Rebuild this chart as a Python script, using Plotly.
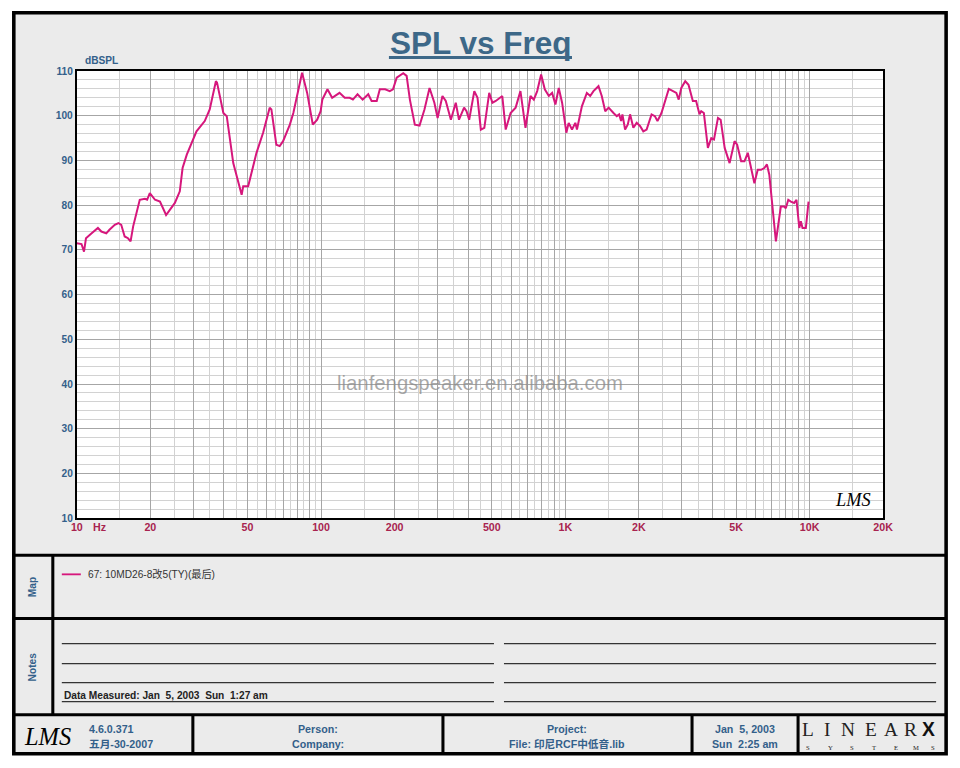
import plotly.graph_objects as go

W, H = 960, 768

# ---------------- data ----------------
freq_hz = [10.0, 10.45, 10.7, 10.9, 11.5, 12.2, 12.6, 13.2, 13.6, 14.3, 14.8, 15.2, 15.7, 16.2, 16.6,
           17.0, 18.1, 19.0, 19.4, 19.9, 20.9, 21.9, 23.2, 24.0, 25.2, 26.4, 27.1, 28.2, 29.5, 30.9,
           33.4, 35.0, 37.1, 37.5, 39.8, 41.1, 43.7, 47.3, 48.0, 50.3, 54.4, 57.9, 61.6, 62.6, 65.6,
           67.7, 69.9, 74.5, 77.0, 80.0, 83.6, 87.7, 92.5, 96.4, 99.6, 101.2, 106.2, 111.0,
           119, 125, 131, 135, 141, 148, 156, 161, 169, 174, 183, 191, 197, 204, 217, 224, 231, 242,
           253, 265, 278, 291, 300, 314, 324, 340, 356, 367, 385, 394, 404, 424, 437, 451, 466, 488,
           503, 519, 552, 570, 597, 626, 655, 687, 720, 743, 767, 796, 824, 856, 883, 911, 940, 970,
           1010, 1032, 1065, 1099, 1116, 1169, 1225, 1264, 1304, 1367,
           1410, 1457, 1504, 1575, 1624, 1661, 1692, 1713, 1757, 1801, 1841, 1899, 1959, 2022, 2086,
           2152, 2255, 2326, 2384, 2475, 2652, 2760, 2848, 2912, 2984, 3097, 3194, 3327, 3432, 3543,
           3600, 3692, 3834, 3958, 4061, 4217, 4325, 4492, 4706, 4930, 5052, 5246, 5413, 5585, 5944,
           6133, 6328, 6529, 6690, 6842, 7280, 7627, 7870, 7992, 8180, 8382, 8650, 8840, 9075, 9210,
           9357, 9654, 9905]
spl_db = [71.5, 71.3, 69.6, 72.6, 73.7, 74.9, 74.1, 73.7, 74.5, 75.6, 76.0, 75.6, 73.0, 72.6, 71.9,
          75.2, 81.2, 81.4, 81.2, 82.7, 81.2, 80.8, 77.8, 79.0, 80.5, 83.1, 88.3, 91.3, 93.9, 96.5,
          98.8, 101.4, 107.7, 107.4, 100.6, 99.9, 89.4, 82.3, 84.2, 84.2, 91.7, 96.2, 101.8, 101.4, 93.5,
          93.2, 94.3, 98.0, 100.6, 105.1, 109.6, 105.1, 98.0, 99.1, 101.0, 103.6, 105.9, 104.0,
          105.1, 104.0, 104.0, 103.6, 104.8, 103.6, 104.8, 103.3, 103.3, 105.9, 105.9, 105.5, 105.9, 108.5, 109.5, 108.9, 103.6, 98.0,
          97.8, 101.4, 106.2, 102.9, 99.5, 104.4, 103.3, 99.1, 102.9, 99.1, 101.8, 101.0, 99.1, 105.5, 104.0, 96.9, 97.3, 105.1,
          102.9, 103.3, 104.4, 96.9, 100.6, 101.8, 105.5, 97.3, 104.4, 103.6, 105.5, 109.2, 105.9, 104.4, 105.1, 102.5, 106.2, 102.9,
          96.2, 98.4, 96.9, 98.4, 96.9, 102.1, 105.1, 104.4, 105.5, 106.6,
          104.4, 101.0, 101.8, 100.6, 99.9, 100.3, 98.8, 100.3, 96.9, 98.0, 100.3, 97.3, 98.4, 97.7, 96.5,
          96.9, 100.3, 99.9, 98.8, 100.6, 106.0, 105.5, 105.1, 103.6, 106.2, 107.7, 106.9, 103.3, 103.3, 100.3,
          101.0, 100.6, 92.8, 95.0, 94.7, 99.5, 99.1, 92.8, 89.4, 94.3, 93.5, 89.8, 89.8, 91.7, 84.9,
          87.9, 87.9, 88.3, 89.1, 86.8, 71.9, 79.7, 79.7, 79.3, 81.2, 80.8, 80.5, 81.2, 74.9, 76.4,
          74.9, 74.9, 80.8]

trace_name = "67: 10MD26-8改5(TY)(最后)"

x_major_vals = [10, 20, 30, 40, 50, 60, 70, 80, 90,
                100, 200, 300, 400, 500, 600, 700, 800, 900,
                1000, 2000, 3000, 4000, 5000, 6000, 7000, 8000, 9000, 10000, 20000]
x_labels = {10: "10", 20: "20", 50: "50", 100: "100", 200: "200", 500: "500",
            1000: "1K", 2000: "2K", 5000: "5K", 10000: "10K", 20000: "20K"}
x_minor_vals = [15, 25, 35, 45, 55, 65, 75, 85, 95,
                150, 250, 350, 450, 550, 650, 750, 850, 950,
                1500, 2500, 3500, 4500, 5500, 6500, 7500, 8500, 9500, 15000]
y_major_vals = [10, 20, 30, 40, 50, 60, 70, 80, 90, 100, 110]

BLUE = "#33608a"
TITLE_BLUE = "#3d6888"
MAROON = "#a8234f"
CURVE = "#d6177c"
FONT = "Arial, Liberation Sans, Noto Sans CJK SC, sans-serif"

# the page is shown slightly reduced and offset; layout positions below are given
# in target-screen pixels and converted here
S, O = 0.983, 6.2
K = 1 / S


def X(px):
    return ((px - O) / S) / W


def Y(py):
    return 1 - ((py - O) / S) / H


fig = go.Figure()
fig.add_trace(go.Scatter(x=freq_hz, y=spl_db, mode="lines", name=trace_name,
                         line=dict(color=CURVE, width=2), showlegend=False))

shapes = []
annots = []

# white outside margin
for (x0, y0, x1, y1) in [(0, 0, 970, 14), (0, 753, 970, 780), (0, 0, 14, 780), (946, 0, 970, 780)]:
    shapes.append(dict(type="rect", xref="paper", yref="paper", x0=X(x0), x1=X(x1), y0=Y(y1), y1=Y(y0),
                       fillcolor="white", line=dict(width=0), layer="below"))


def hline(y, x0, x1, w=3, c="black"):
    shapes.append(dict(type="line", xref="paper", yref="paper", x0=X(x0), x1=X(x1), y0=Y(y), y1=Y(y),
                       line=dict(color=c, width=w * K)))


def vline(x, y0, y1, w=3, c="black"):
    shapes.append(dict(type="line", xref="paper", yref="paper", x0=X(x), x1=X(x), y0=Y(y0), y1=Y(y1),
                       line=dict(color=c, width=w * K)))


# outer frame
shapes.append(dict(type="rect", xref="paper", yref="paper", x0=X(14), x1=X(946), y0=Y(753), y1=Y(14),
                   line=dict(color="black", width=3.5 * K)))
hline(555, 14, 946)
hline(618, 14, 946)
hline(714, 14, 946)
vline(53, 555, 714)
for xv in [193, 443, 692, 798]:
    vline(xv, 714, 753)

# notes lines
for yv in [643, 663, 682, 701]:
    hline(yv, 62, 494, w=1.2, c="#333")
    hline(yv, 504, 936, w=1.2, c="#333")

# title underline
shapes.append(dict(type="rect", xref="paper", yref="paper", x0=X(389), x1=X(572), y0=Y(60), y1=Y(57),
                   fillcolor=TITLE_BLUE, line=dict(width=0)))

# map legend line
hline(574, 62, 81, w=1.8, c=CURVE)


def text(px, py, s, size=10, color=BLUE, xanchor="center", bold=False, family=FONT, angle=0, italic=False):
    if bold:
        s = "<b>" + s + "</b>"
    if italic:
        s = "<i>" + s + "</i>"
    annots.append(dict(xref="paper", yref="paper", x=X(px), y=Y(py), text=s, showarrow=False,
                       xanchor=xanchor, yanchor="middle", textangle=angle,
                       font=dict(size=size * K, color=color, family=family)))


NB = "\u00a0"
text(481, 44, "SPL vs Freq", size=31, color=TITLE_BLUE, bold=True)
text(83, 62, "dBSPL", size=10, bold=True, xanchor="left")
text(91, 527, "Hz", size=10.5, color=MAROON, bold=True, xanchor="left")
text(480, 383, "lianfengspeaker.en.alibaba.com", size=20, color="rgba(140,140,140,0.75)")
text(853, 500, "LMS", size=18, color="black", family="Liberation Serif, serif", italic=True)

text(33, 587, "Map", size=10, bold=True, angle=-90)
text(33, 666, "Notes", size=10, bold=True, angle=-90)
text(86, 574, trace_name, size=10, color="#333", xanchor="left")
text(62, 695, "Data Measured: Jan" + NB + NB + "5, 2003" + NB + NB + "Sun" + NB + NB + "1:27 am",
     size=10, color="#222", bold=True, xanchor="left")

# footer
text(48, 736, "LMS", size=24, color="black", family="Liberation Serif, serif", italic=True)
text(87, 728, "4.6.0.371", size=10.5, bold=True, xanchor="left")
text(87, 743, "五月-30-2007", size=10.5, bold=True, xanchor="left")
text(318, 728, "Person:", size=10.5, bold=True)
text(318, 743, "Company:", size=10.5, bold=True)
text(567, 728, "Project:", size=10.5, bold=True)
text(567, 743, "File: 印尼RCF中低音.lib", size=10.5, bold=True)
text(745, 728, "Jan" + NB + NB + "5, 2003", size=10.5, bold=True)
text(745, 743, "Sun" + NB + NB + "2:25 am", size=10.5, bold=True)

for ch, xp in zip("LINEAR", [808, 827, 848, 871, 891, 910]):
    text(xp, 729, ch, size=19, color="#222", family="Liberation Serif, serif")
text(928, 729, "X", size=19, color="#111", bold=True)
for ch, xp in zip("SYSTEMS", [808, 830, 852, 874, 896, 916, 933]):
    text(xp, 747, ch, size=6.5, color="#222", family="Liberation Serif, serif")

fig.update_layout(
    width=W, height=H,
    margin=dict(l=0, r=0, t=0, b=0),
    paper_bgcolor="#ebebeb",
    plot_bgcolor="white",
    shapes=shapes,
    annotations=annots,
    font=dict(family=FONT),
    xaxis=dict(
        type="log", range=[1, 4.30103], domain=[X(77), X(883)],
        tickmode="array", tickvals=x_major_vals,
        ticktext=[x_labels.get(v, "") for v in x_major_vals],
        tickfont=dict(size=10.5 * K, color=MAROON, family=FONT, weight="bold"),
        ticks="", showgrid=True, gridcolor="#a6a6a6", gridwidth=1,
        minor=dict(tickvals=x_minor_vals, showgrid=True, gridcolor="#d2d2d2", gridwidth=1, ticks=""),
        showline=True, linecolor="black", linewidth=2, mirror=True, zeroline=False,
        ticklabelstandoff=-2,
    ),
    yaxis=dict(
        range=[10, 110], domain=[Y(518), Y(72)],
        tickmode="array", tickvals=y_major_vals,
        tickfont=dict(size=10 * K, color=BLUE, family=FONT, weight="bold"),
        ticks="", showgrid=True, gridcolor="#a6a6a6", gridwidth=1,
        minor=dict(dtick=2, showgrid=True, gridcolor="#d2d2d2", gridwidth=1, ticks=""),
        showline=True, linecolor="black", linewidth=2, mirror=True, zeroline=False,
        ticklabelstandoff=0,
    ),
)

fig.write_html("out.html", config={"displayModeBar": False},
               post_script="document.body.style.margin='0';document.body.style.overflow='hidden';")
